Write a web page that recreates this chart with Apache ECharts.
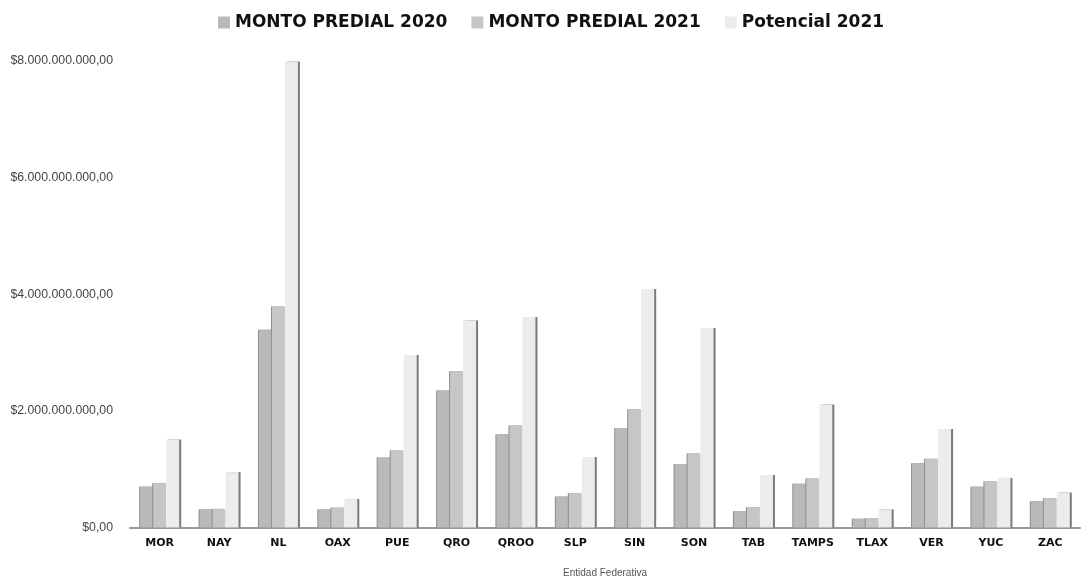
<!DOCTYPE html>
<html>
<head>
<meta charset="utf-8">
<script src="https://cdn.jsdelivr.net/npm/echarts@6/dist/echarts.min.js"></script>
<style>
html,body{margin:0;padding:0;background:#fff;}
#chart{width:1081px;height:579px;}
</style>
</head>
<body>
<div id="chart"></div>
<script>
var categories = ['MOR','NAY','NL','OAX','PUE','QRO','QROO','SLP','SIN','SON','TAB','TAMPS','TLAX','VER','YUC','ZAC'];
var monto2020 = [700000000, 310000000, 3390000000, 310000000, 1200000000, 2350000000, 1600000000, 530000000, 1700000000, 1090000000, 280000000, 750000000, 150000000, 1100000000, 700000000, 450000000];
var monto2021 = [760000000, 320000000, 3790000000, 340000000, 1320000000, 2680000000, 1750000000, 590000000, 2030000000, 1270000000, 350000000, 840000000, 160000000, 1180000000, 790000000, 500000000];
var potencial2021 = [1510000000, 950000000, 7990000000, 490000000, 2960000000, 3550000000, 3610000000, 1210000000, 4090000000, 3420000000, 900000000, 2110000000, 310000000, 1690000000, 850000000, 600000000];
var seriesNames = ['MONTO PREDIAL 2020', 'MONTO PREDIAL 2021', 'Potencial 2021'];
var yTickValues = [0, 2000000000, 4000000000, 6000000000, 8000000000];
var yTickLabels = ['$0,00', '$2.000.000.000,00', '$4.000.000.000,00', '$6.000.000.000,00', '$8.000.000.000,00'];
var xAxisTitle = 'Entidad Federativa';

var chart = echarts.init(document.getElementById('chart'));
var option = {
  animation: false,
  backgroundColor: '#ffffff',
  legend: {
    data: seriesNames,
    left: 213,
    top: 9,
    itemWidth: 12,
    itemHeight: 12,
    itemGap: 24,
    icon: 'rect',
    textStyle: {fontFamily: 'DejaVu Sans', fontWeight: 'bold', fontSize: 17, color: '#111'},
    itemStyle: {shadowColor: 'rgba(0,0,0,0)', shadowBlur: 0, shadowOffsetX: 0}
  },
  grid: {left: 130, right: 1, top: 61, bottom: 51.5, containLabel: false, outerBoundsMode: 'none'},
  xAxis: {
    type: 'category',
    data: categories,
    name: xAxisTitle,
    nameLocation: 'middle',
    nameGap: 41,
    nameTextStyle: {fontFamily: 'Liberation Sans', fontSize: 10, color: '#555'},
    axisLine: {show: true, lineStyle: {color: '#999', width: 2}},
    axisTick: {show: false},
    axisLabel: {fontFamily: 'DejaVu Sans', fontWeight: 'bold', fontSize: 11, color: '#111', margin: 10, interval: 0}
  },
  yAxis: {
    type: 'value',
    min: 0,
    max: 8000000000,
    interval: 2000000000,
    axisLine: {show: false},
    axisTick: {show: false},
    splitLine: {show: false},
    axisLabel: {
      fontFamily: 'Liberation Sans', fontSize: 12.3, color: '#444', margin: 17,
      formatter: function (v) { var i = yTickValues.indexOf(v); return i >= 0 ? yTickLabels[i] : ''; }
    }
  },
  series: [
    {name: seriesNames[0], type: 'bar', data: monto2020, barWidth: 13, barGap: '0%',
     itemStyle: {color: '#b9b9b9', shadowColor: '#8e8e8e', shadowBlur: 0, shadowOffsetX: -1}},
    {name: seriesNames[1], type: 'bar', data: monto2021, barWidth: 13, barGap: '0%',
     itemStyle: {color: '#c6c6c6', shadowColor: '#8e8e8e', shadowBlur: 0, shadowOffsetX: -1}},
    {name: seriesNames[2], type: 'bar', data: potencial2021, barWidth: 13, barGap: '0%',
     itemStyle: {color: '#ececec', shadowColor: '#7a7a7a', shadowBlur: 0, shadowOffsetX: 2}}
  ]
};
chart.setOption(option);
</script>
</body>
</html>
